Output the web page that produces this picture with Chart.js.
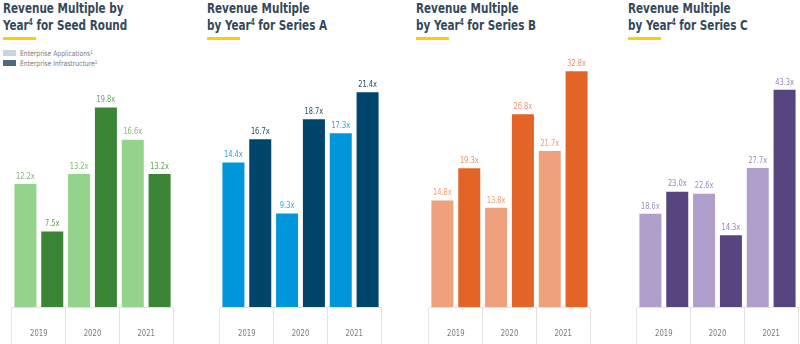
<!DOCTYPE html>
<html>
<head>
<meta charset="utf-8">
<script src="https://cdn.jsdelivr.net/npm/chart.js@4.4.1/dist/chart.umd.min.js"></script>
<style>
  html, body { margin: 0; padding: 0; background: #fff; }
  body { width: 800px; height: 344px; position: relative; overflow: hidden; }
  canvas { position: absolute; top: 0; }
  .title {
    position: absolute; top: 0;
    font-family: 'DejaVu Sans Condensed', 'DejaVu Sans', sans-serif;
    font-weight: bold; font-size: 14.5px; line-height: 17px;
    color: #34495b; white-space: nowrap;
  }
  .title .txt { display: inline-block; transform: scaleX(0.8); transform-origin: 0 0; }
  .title sup { font-size: 8px; vertical-align: 5px; line-height: 0; }
  .title .bar { position: absolute; left: 0; top: 37px; width: 33px; height: 3px; background: #f3d400; }
  .legend {
    position: absolute; left: 3px; top: 50px;
    font-family: 'DejaVu Sans Condensed', 'DejaVu Sans', sans-serif;
    font-size: 7.5px; color: #7a7a7a;
  }
  .legend div { height: 9.5px; line-height: 7px; white-space: nowrap; }
  .legend span { display: inline-block; width: 13px; height: 6px; margin-right: 4px; vertical-align: top; }
  .legend em { font-style: normal; display: inline-block; transform: scaleX(0.9); transform-origin: 0 0; }
  .legend sup { font-size: 5px; vertical-align: 2px; line-height: 0; }
</style>
</head>
<body>
<div class="title" style="left:3px"><span class="txt">Revenue Multiple by<br>Year<sup>4</sup> for Seed Round</span><div class="bar"></div></div>
<div class="title" style="left:207px"><span class="txt">Revenue Multiple<br>by Year<sup>4</sup> for Series A</span><div class="bar"></div></div>
<div class="title" style="left:416px"><span class="txt">Revenue Multiple<br>by Year<sup>4</sup> for Series B</span><div class="bar"></div></div>
<div class="title" style="left:628px"><span class="txt">Revenue Multiple<br>by Year<sup>4</sup> for Series C</span><div class="bar"></div></div>
<div class="legend">
  <div><span style="background:#c9d5de"></span><em>Enterprise Applications<sup>1</sup></em></div>
  <div><span style="background:#4e6a80"></span><em>Enterprise Infrastructure<sup>1</sup></em></div>
</div>

<canvas id="seed" width="169" height="344" style="left:8px"></canvas>
<canvas id="seriesA" width="169" height="344" style="left:216px"></canvas>
<canvas id="seriesB" width="169" height="344" style="left:425px"></canvas>
<canvas id="seriesC" width="169" height="344" style="left:633px"></canvas>

<script>
// дані з картинки
const years = ['2019', '2020', '2021'];

const seedApps = [12.2, 13.2, 16.6];
const seedInfra = [7.5, 19.8, 13.2];

const seriesAApps = [14.4, 9.3, 17.3];
const seriesAInfra = [16.7, 18.7, 21.4];

const seriesBApps = [14.8, 13.8, 21.7];
const seriesBInfra = [19.3, 26.8, 32.8];

const seriesCApps = [18.6, 22.6, 27.7];
const seriesCInfra = [23.0, 14.3, 43.3];

const labelFont = "'DejaVu Sans Condensed', 'DejaVu Sans', sans-serif";

// вузький текст: стискаємо по горизонталі
function narrowText(ctx, text, x, y, k) {
    ctx.save();
    ctx.translate(x, y);
    ctx.scale(k, 1);
    ctx.fillText(text, 0, 0);
    ctx.restore();
}

// підписи над стовпчиками та роки під віссю
const valueLabels = {
    id: 'valueLabels',
    afterDatasetsDraw(chart) {
        const ctx = chart.ctx;
        ctx.save();
        ctx.font = '9px ' + labelFont;
        ctx.textAlign = 'center';
        ctx.textBaseline = 'bottom';
        chart.data.datasets.forEach((ds, i) => {
            const meta = chart.getDatasetMeta(i);
            ctx.fillStyle = ds.labelColor;
            meta.data.forEach((bar, j) => {
                narrowText(ctx, ds.data[j].toFixed(1) + 'x', bar.x, bar.y - 3, 0.82);
            });
        });

        const xScale = chart.scales.x;
        ctx.font = '8.5px ' + labelFont;
        ctx.fillStyle = '#7a7a7a';
        ctx.textBaseline = 'middle';
        chart.data.labels.forEach((lbl, i) => {
            narrowText(ctx, lbl, xScale.getPixelForTick(i), xScale.top + 27, 0.9);
        });
        ctx.restore();
    }
};

function makeChart(id, apps, infra, colors, yMax) {
    const canvas = document.getElementById(id);
    return new Chart(canvas.getContext('2d'), {
        type: 'bar',
        data: {
            labels: years,
            datasets: [
                { label: 'Enterprise Applications', data: apps, backgroundColor: colors[0], labelColor: colors[2] },
                { label: 'Enterprise Infrastructure', data: infra, backgroundColor: colors[1], labelColor: colors[3] }
            ]
        },
        options: {
            responsive: false,
            animation: false,
            layout: { padding: { left: 4, right: 4, top: 60, bottom: 0 } },
            datasets: { bar: { categoryPercentage: 1, barPercentage: 0.82 } },
            scales: {
                y: { display: false, min: 0, max: yMax },
                x: {
                    grid: {
                        offset: true,
                        drawOnChartArea: false,
                        drawTicks: true,
                        tickLength: 37,
                        color: '#e2e2e2'
                    },
                    border: { display: true, color: '#e2e2e2' },
                    ticks: { display: false }
                }
            },
            plugins: {
                legend: { display: false },
                tooltip: { enabled: false }
            }
        },
        plugins: [valueLabels]
    });
}

makeChart('seed', seedApps, seedInfra, ['#93d38b', '#3a8536', '#79bf70', '#5aa84f'], 24.5);
makeChart('seriesA', seriesAApps, seriesAInfra, ['#0096db', '#00466a', '#2aa2dd', '#1f4d6b'], 24.6);
makeChart('seriesB', seriesBApps, seriesBInfra, ['#efa07c', '#e46327', '#f09c74', '#ef9266'], 34.35);
makeChart('seriesC', seriesCApps, seriesCInfra, ['#b09ecb', '#57457f', '#9f8dc4', '#9483bd'], 49.25);
</script>
</body>
</html>
